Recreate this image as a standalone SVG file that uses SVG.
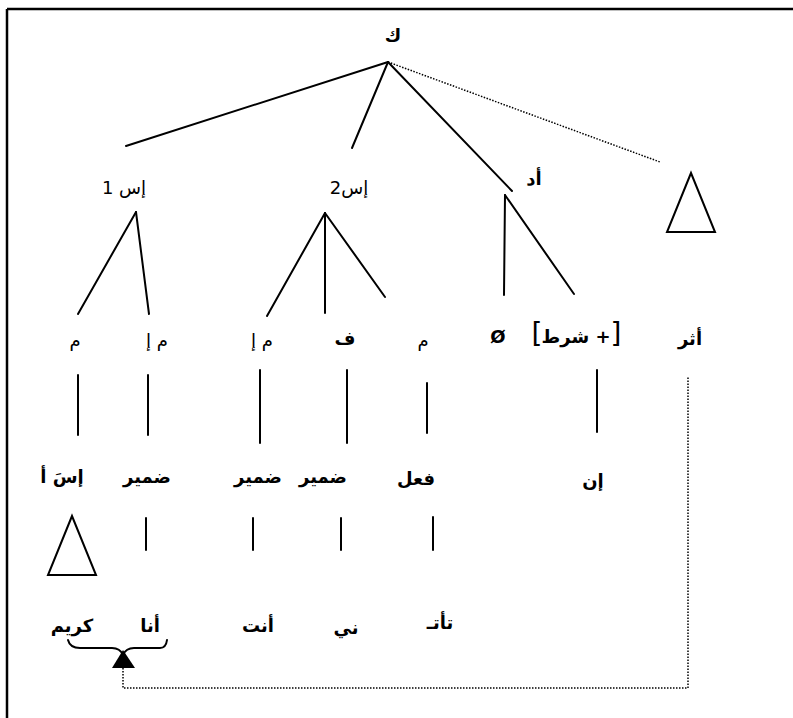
<svg xmlns="http://www.w3.org/2000/svg" width="793" height="718" viewBox="0 0 793 718">
<style>
text{font-family:"DejaVu Sans","Noto Sans",sans-serif;font-size:18px;fill:#000;text-anchor:middle;dominant-baseline:central;direction:rtl}
.b{font-weight:bold}
.br{direction:ltr;font-size:28px}
.ln{stroke:#000;stroke-width:2;fill:none;stroke-linecap:round}
.dot{stroke:#000;stroke-width:1.5;fill:none;stroke-dasharray:1.5 1.5}
.tri{stroke:#000;stroke-width:2;fill:none;stroke-linejoin:miter}
</style>
<rect width="793" height="718" fill="#fff"/>
<g id="frame">
<line x1="7" y1="9" x2="793" y2="9" stroke="#000" stroke-width="2.5"/>
<line x1="7" y1="9" x2="7" y2="718" stroke="#000" stroke-width="2.5"/>
</g>
<g id="connectors">
<line class="ln" x1="388" y1="62" x2="126" y2="146"/>
<line class="ln" x1="388" y1="62" x2="352" y2="148"/>
<line class="ln" x1="388" y1="62" x2="512" y2="191"/>
<line class="dot" x1="388" y1="62" x2="660" y2="162"/>
<line class="ln" x1="136" y1="212" x2="78" y2="314"/>
<line class="ln" x1="136" y1="212" x2="149" y2="314"/>
<line class="ln" x1="325" y1="213" x2="267" y2="316"/>
<line class="ln" x1="325" y1="213" x2="325" y2="313"/>
<line class="ln" x1="325" y1="213" x2="385" y2="297"/>
<line class="ln" x1="505" y1="195" x2="504" y2="295"/>
<line class="ln" x1="505" y1="195" x2="574" y2="294"/>
<line class="ln" x1="78" y1="375" x2="78" y2="435"/>
<line class="ln" x1="148" y1="375" x2="148" y2="435"/>
<line class="ln" x1="260" y1="370" x2="260" y2="443"/>
<line class="ln" x1="347" y1="370" x2="347" y2="443"/>
<line class="ln" x1="427" y1="383" x2="427" y2="433"/>
<line class="ln" x1="597" y1="370" x2="597" y2="432"/>
<line class="ln" x1="146" y1="518" x2="146" y2="550"/>
<line class="ln" x1="253" y1="518" x2="253" y2="550"/>
<line class="ln" x1="341" y1="518" x2="341" y2="550"/>
<line class="ln" x1="433" y1="517" x2="433" y2="550"/>
<path class="ln" stroke-width="1.8" d="M68,640 Q70,648 80,648 L112,648 Q120,648 123,655 Q126,648 134,648 L160,648 Q166,648 167,640"/>
<polygon points="123,650 112,668 135,668" fill="#000"/>
<polyline class="dot" points="123,668 123,688 688,688 688,377"/>
</g>
<g id="n-k"><text class="b" x="393" y="35" font-size="21">ك</text></g>
<g id="n-is1"><text x="124" y="187">إس 1</text></g>
<g id="n-is2"><text x="349" y="187">إس2</text></g>
<g id="n-ad"><text class="b" x="534" y="178">أد</text></g>
<g id="n-tri-right"><polygon class="tri" points="691,173 667,232 715,232"/></g>
<g id="n-m1"><text x="75" y="340">م</text></g>
<g id="n-mi1"><text x="157" y="340">م إ</text></g>
<g id="n-mi2"><text x="262" y="340">م إ</text></g>
<g id="n-f"><text class="b" x="345" y="338">ف</text></g>
<g id="n-m2"><text x="423" y="340">م</text></g>
<g id="n-null"><text class="b" x="498" y="336" font-size="20">Ø</text></g>
<g id="n-shart">
<text class="br" x="537" y="333">[</text>
<text class="b" x="576" y="336" font-size="16">+ شرط</text>
<text class="br" x="616" y="333">]</text>
</g>
<g id="n-athar"><text class="b" x="690" y="338">أثر</text></g>
<g id="n-isa"><text class="b" x="62" y="476">إسَ أ</text></g>
<g id="n-dam1"><text class="b" x="147" y="476">ضمير</text></g>
<g id="n-dam2"><text class="b" x="258" y="476">ضمير</text></g>
<g id="n-dam3"><text class="b" x="323" y="476">ضمير</text></g>
<g id="n-fil"><text class="b" x="416" y="478">فعل</text></g>
<g id="n-in"><text class="b" x="593" y="480">إن</text></g>
<g id="n-tri-left"><polygon class="tri" points="72,516 48,575 96,575"/></g>
<g id="n-karim"><text class="b" x="72" y="625">كريم</text></g>
<g id="n-ana"><text class="b" x="150" y="625">أنا</text></g>
<g id="n-anta"><text class="b" x="258" y="625">أنت</text></g>
<g id="n-ni"><text class="b" x="346" y="627">ني</text></g>
<g id="n-tati"><text class="b" x="440" y="622">تأتـ</text></g>
</svg>
